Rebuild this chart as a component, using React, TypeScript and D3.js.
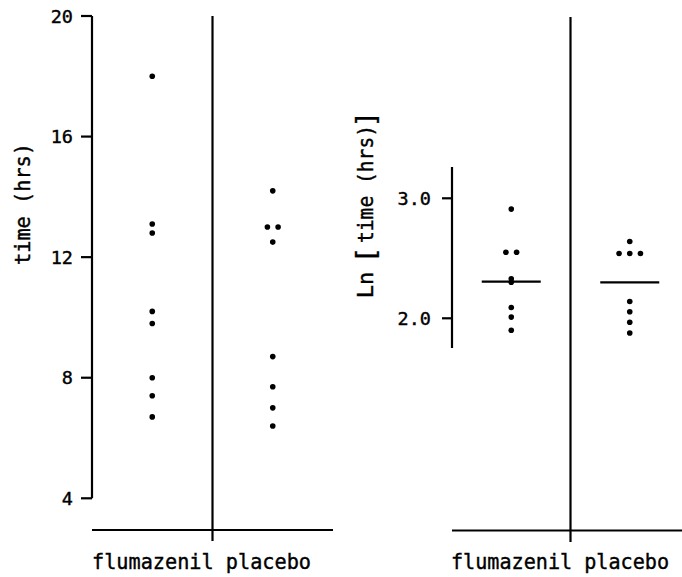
import React from "react";
import * as d3 from "d3";

const groups = ["flumazenil", "placebo"];
const leftTicks = [4, 8, 12, 16, 20];
const rightTicks = [2.0, 3.0];
const rightTickLabels = ["2.0", "3.0"];

const timeFlumazenil = [18.0, 13.1, 12.8, 10.2, 9.8, 8.0, 7.4, 6.7];
const timePlacebo = [14.2, 13.0, 13.0, 12.5, 8.7, 7.7, 7.0, 6.4];

const lnFlumazenil = [2.91, 2.55, 2.55, 2.33, 2.30, 2.09, 2.01, 1.90];
const lnPlacebo = [2.64, 2.54, 2.54, 2.54, 2.14, 2.055, 1.967, 1.878];
const lnMeans = [2.305, 2.30];

const W = 682;
const H = 577;
const FONT = "'DejaVu Sans Mono', monospace";
const SPREAD = 10.7;

function spread(vals: number[]) {
  // points with equal values placed side by side
  const counts = new Map<number, number>();
  vals.forEach((v) => counts.set(v, (counts.get(v) || 0) + 1));
  const seen = new Map<number, number>();
  return vals.map((v) => {
    const n = counts.get(v)!;
    const i = seen.get(v) || 0;
    seen.set(v, i + 1);
    return { v, off: (i - (n - 1) / 2) * SPREAD };
  });
}

const txt = { fontFamily: FONT, fill: "#000", stroke: "#000", strokeWidth: 0.4 };

export default function App() {
  // left panel
  const yL = d3.scaleLinear().domain([4, 20]).range([498.3, 16]);
  const xL = d3.scaleBand().domain(groups).range([92, 333]);
  // right panel
  const yR = d3.scaleLinear().domain([2, 3]).range([318.3, 198.3]);
  const xR = d3.scaleBand().domain(groups).range([452, 689]);

  const leftData = [timeFlumazenil, timePlacebo];
  const rightData = [lnFlumazenil, lnPlacebo];
  const sw = 2.2;

  return (
    <svg width={W} height={H} style={{ position: "absolute", left: 0, top: 0, background: "#fff" }}>
      <rect width={W} height={H} fill="#fff" />
      {/* LEFT PANEL */}
      <g stroke="#000" strokeWidth={sw} fill="none">
        <line x1={92} x2={92} y1={yL(20)} y2={yL(4)} />
        {leftTicks.map((t) => (
          <line key={t} x1={81} x2={92} y1={yL(t)} y2={yL(t)} />
        ))}
        <line x1={xL("placebo")!} x2={xL("placebo")!} y1={16} y2={541} />
        <line x1={92} x2={333} y1={530} y2={530} />
      </g>
      {leftTicks.map((t) => (
        <text key={t} x={73} y={yL(t)} dy="0.36em" textAnchor="end" fontSize={18.5} {...txt}>
          {t}
        </text>
      ))}
      <text
        transform={`translate(30,204) rotate(-90)`}
        textAnchor="middle"
        fontSize={21}
        textLength={122}
        lengthAdjust="spacingAndGlyphs"
        {...txt}
      >
        time (hrs)
      </text>
      {leftData.map((vals, gi) =>
        spread(vals).map((p, i) => (
          <circle
            key={`l${gi}-${i}`}
            cx={xL(groups[gi])! + xL.bandwidth() / 2 + p.off}
            cy={yL(p.v)}
            r={2.8}
            fill="#000"
          />
        ))
      )}
      <text x={92} y={568.5} fontSize={21} textLength={219} lengthAdjust="spacingAndGlyphs" {...txt}>
        flumazenil placebo
      </text>

      {/* RIGHT PANEL */}
      <g stroke="#000" strokeWidth={sw} fill="none">
        <line x1={452} x2={452} y1={167} y2={348} />
        {rightTicks.map((t) => (
          <line key={t} x1={442} x2={452} y1={yR(t)} y2={yR(t)} />
        ))}
        <line x1={xR("placebo")!} x2={xR("placebo")!} y1={17} y2={542} />
        <line x1={452} x2={682} y1={530.5} y2={530.5} />
        {lnMeans.map((m, gi) => (
          <line
            key={gi}
            x1={xR(groups[gi])! + xR.bandwidth() / 2 - 29.5}
            x2={xR(groups[gi])! + xR.bandwidth() / 2 + 29.5}
            y1={yR(m)}
            y2={yR(m)}
          />
        ))}
      </g>
      {rightTicks.map((t, i) => (
        <text key={t} x={431} y={yR(t)} dy="0.36em" textAnchor="end" fontSize={18.5} {...txt}>
          {rightTickLabels[i]}
        </text>
      ))}
      <text transform={`translate(373,285) rotate(-90)`} textAnchor="middle" fontSize={22} {...txt}>
        Ln
      </text>
      <text transform={`translate(375,255) rotate(-90)`} textAnchor="middle" fontSize={27} {...txt}>
        [
      </text>
      <text
        transform={`translate(373,184) rotate(-90)`}
        textAnchor="middle"
        fontSize={21}
        textLength={118}
        lengthAdjust="spacingAndGlyphs"
        {...txt}
      >
        time (hrs)
      </text>
      <text transform={`translate(375,119) rotate(-90)`} textAnchor="middle" fontSize={27} {...txt}>
        ]
      </text>
      {rightData.map((vals, gi) =>
        spread(vals).map((p, i) => (
          <circle
            key={`r${gi}-${i}`}
            cx={xR(groups[gi])! + xR.bandwidth() / 2 + p.off}
            cy={yR(p.v)}
            r={2.8}
            fill="#000"
          />
        ))
      )}
      <text x={451} y={568.5} fontSize={21} textLength={218} lengthAdjust="spacingAndGlyphs" {...txt}>
        flumazenil placebo
      </text>
    </svg>
  );
}
